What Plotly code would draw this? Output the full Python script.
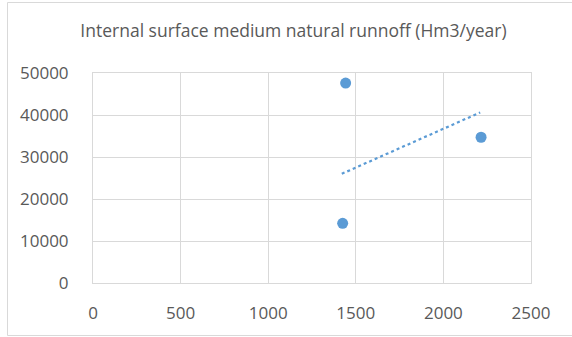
import plotly.graph_objects as go

# Data
x_vals = [1442, 1425, 2215]
y_vals = [47600, 14200, 34700]
trend_x = [1420, 2210]
trend_y = [26000, 40600]
x_ticks = [0, 500, 1000, 1500, 2000, 2500]
y_ticks = [0, 10000, 20000, 30000, 40000, 50000]
title_text = "Internal surface medium natural runnoff (Hm3/year)"

W, H = 572, 337
L, R, T, B = 93, 41, 73, 54
pw, ph = W - L - R, H - T - B

fig = go.Figure()
fig.add_trace(go.Scatter(x=trend_x, y=trend_y, mode="lines",
                         line=dict(color="#5b9bd5", width=2.2, dash="dot"),
                         hoverinfo="skip"))
fig.add_trace(go.Scatter(x=x_vals, y=y_vals, mode="markers",
                         marker=dict(color="#5b9bd5", size=11)))

grid = "#d9d9d9"
font_c = "#595959"
fig.update_layout(
    width=W, height=H,
    margin=dict(l=L, r=R, t=T, b=B),
    paper_bgcolor="white", plot_bgcolor="white",
    showlegend=False,
    font=dict(family="Open Sans", color=font_c, size=17),
    title=dict(text=title_text, x=293.5 / W, xref="container", xanchor="center",
               y=1 - 31 / H, yanchor="middle", yref="container",
               font=dict(family="Open Sans", size=17.5, color=font_c)),
    xaxis=dict(range=[0, 2500], tickvals=x_ticks, tickformat="d", showgrid=True, gridcolor=grid,
               gridwidth=1, zeroline=False, showline=True, linecolor=grid, mirror=True,
               ticks="", ticklabelstandoff=15,
               tickfont=dict(size=17, color=font_c)),
    yaxis=dict(range=[0, 50000], tickvals=y_ticks, tickformat="d", showgrid=True, gridcolor=grid,
               gridwidth=1, zeroline=False, showline=True, linecolor=grid, mirror=True,
               ticks="", ticklabelstandoff=20,
               tickfont=dict(size=17, color=font_c)),
)

# outer chart border
fig.add_shape(type="rect", xref="paper", yref="paper",
              x0=(7.5 - L) / pw, x1=(580 - L) / pw,
              y0=(H - 335.5 - B) / ph, y1=(H - 2.5 - B) / ph,
              line=dict(color=grid, width=1), layer="below")

fig.write_html("out.html")
